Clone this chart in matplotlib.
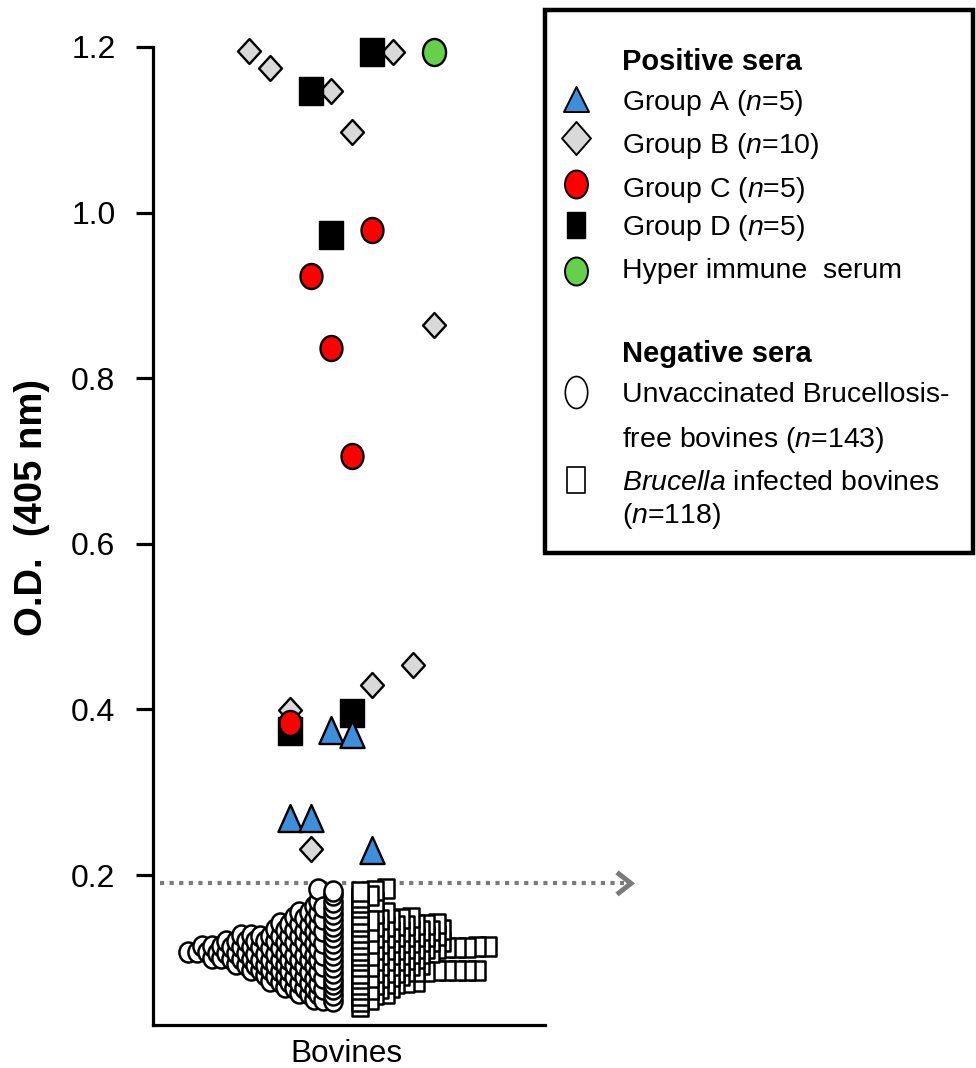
import numpy as np
import matplotlib
matplotlib.use("Agg")
import matplotlib.pyplot as plt
from matplotlib.path import Path
from matplotlib.patches import Rectangle
from matplotlib import font_manager
from matplotlib.transforms import blended_transform_factory

# ---------------- data ----------------
category = "Bovines"
yticks = [0.2, 0.4, 0.6, 0.8, 1.0, 1.2]
cutoff = 0.19

# positive sera: values and the column (0..9) each dot sits in
groupA_vals = [0.269, 0.269, 0.375, 0.371, 0.230]
groupA_cols = [2, 3, 4, 5, 6]
groupB_vals = [1.195, 1.175, 1.147, 1.194, 1.097, 0.864, 0.454, 0.429, 0.399, 0.231]
groupB_cols = [0, 1, 4, 7, 5, 9, 8, 6, 2, 3]
groupC_vals = [0.979, 0.923, 0.836, 0.706, 0.384]
groupC_cols = [6, 3, 4, 5, 2]
groupD_vals = [1.194, 1.147, 0.973, 0.396, 0.374]
groupD_cols = [6, 3, 4, 5, 2]
hyper_vals = [1.194]
hyper_cols = [9]

# negative sera (n=143 and n=118)
unvacc_vals = [
    0.181, 0.183,
    0.176,
    0.167, 0.169,
    0.160, 0.161, 0.163,
    0.153, 0.154, 0.155, 0.156,
    0.146, 0.147, 0.147, 0.148, 0.149,
    0.139, 0.140, 0.140, 0.141, 0.141, 0.142,
    0.132, 0.132, 0.133, 0.133, 0.134, 0.134, 0.135,
    0.125, 0.125, 0.126, 0.126, 0.126, 0.127, 0.127, 0.127, 0.128, 0.128,
    0.118, 0.118, 0.118, 0.119, 0.119, 0.119, 0.120, 0.120, 0.120, 0.121, 0.121, 0.121,
    0.111, 0.111, 0.111, 0.112, 0.112, 0.112, 0.112, 0.113, 0.113, 0.113, 0.113, 0.114, 0.114, 0.114,
    0.103, 0.103, 0.104, 0.104, 0.104, 0.105, 0.105, 0.105, 0.105, 0.106, 0.106, 0.106, 0.106, 0.107, 0.107, 0.107,
    0.096, 0.097, 0.097, 0.097, 0.098, 0.098, 0.098, 0.098, 0.099, 0.099, 0.099, 0.100, 0.100,
    0.089, 0.090, 0.090, 0.090, 0.091, 0.091, 0.091, 0.092, 0.092, 0.092, 0.093,
    0.082, 0.083, 0.083, 0.084, 0.084, 0.084, 0.085, 0.085, 0.086,
    0.075, 0.076, 0.076, 0.077, 0.077, 0.078, 0.078, 0.079,
    0.069, 0.069, 0.070, 0.070, 0.071, 0.071, 0.072,
    0.062, 0.062, 0.063, 0.064, 0.064, 0.065,
    0.055, 0.056, 0.057, 0.058,
    0.048, 0.049, 0.050,
]
infected_vals = [
    0.181, 0.182, 0.184,
    0.174, 0.176,
    0.167, 0.169,
    0.161,
    0.153, 0.154, 0.156,
    0.145, 0.146, 0.147, 0.147, 0.148, 0.149,
    0.138, 0.139, 0.139, 0.140, 0.140, 0.141, 0.141, 0.142,
    0.131, 0.132, 0.132, 0.133, 0.133, 0.133, 0.134, 0.134, 0.135,
    0.124, 0.125, 0.125, 0.126, 0.126, 0.127, 0.127, 0.128,
    0.117, 0.118, 0.118, 0.119, 0.119, 0.119, 0.120, 0.120, 0.121,
    0.110, 0.111, 0.111, 0.111, 0.112, 0.112, 0.112, 0.112, 0.113, 0.113, 0.113, 0.114, 0.114,
    0.104, 0.104, 0.105, 0.105, 0.105, 0.106, 0.106, 0.107,
    0.097, 0.097, 0.098, 0.098, 0.099, 0.100,
    0.090, 0.090, 0.091, 0.091, 0.092, 0.092, 0.093,
    0.082, 0.083, 0.083, 0.083, 0.084, 0.084, 0.084, 0.085, 0.085, 0.085, 0.086, 0.086,
    0.076, 0.077, 0.077, 0.078, 0.079,
    0.069, 0.069, 0.070, 0.070, 0.071, 0.072,
    0.062, 0.063, 0.064, 0.065,
    0.055, 0.056, 0.058,
    0.048, 0.050,
    0.042,
]

# ---------------- style ----------------
names = {f.name for f in font_manager.fontManager.ttflist}
SANS = "Liberation Sans" if "Liberation Sans" in names else "DejaVu Sans"
plt.rcParams["font.family"] = [SANS, "DejaVu Sans"]
plt.rcParams["mathtext.fontset"] = "custom"
plt.rcParams["mathtext.rm"] = SANS
plt.rcParams["mathtext.it"] = SANS + ":italic"
plt.rcParams["mathtext.bf"] = SANS + ":bold"

BLUE = "#3d8fdc"
GREY = "#d9d9d9"
RED = "#ff0000"
GREEN = "#66d04a"
ARROW_GREY = "#7a7a7a"

W, H = 976, 1068
PT = 72.0 / 100.0  # points per pixel at dpi 100


def mpath(kind, aspect):
    if kind == "o":
        base = Path.unit_circle()
        v = base.vertices.copy()
        c = base.codes
    elif kind == "s":
        v = np.array([[-1, -1], [1, -1], [1, 1], [-1, 1], [-1, -1]], float)
        c = [Path.MOVETO, Path.LINETO, Path.LINETO, Path.LINETO, Path.CLOSEPOLY]
    elif kind == "^":
        v = np.array([[0, 1], [-1, -1], [1, -1], [0, 1]], float)
        c = [Path.MOVETO, Path.LINETO, Path.LINETO, Path.CLOSEPOLY]
    else:  # diamond
        v = np.array([[0, 1], [1, 0], [0, -1], [-1, 0], [0, 1]], float)
        c = [Path.MOVETO, Path.LINETO, Path.LINETO, Path.LINETO, Path.CLOSEPOLY]
    v[:, 1] *= aspect
    return Path(v, c)


fig = plt.figure(figsize=(W / 100, H / 100), dpi=100)
fig.patch.set_facecolor("white")

ax_l, ax_r, ax_t, ax_b = 153, 545, 47, 1025
ax = fig.add_axes([ax_l / W, 1 - ax_b / H, (ax_r - ax_l) / W, (ax_b - ax_t) / H])
COL = 20.5  # px per column unit
ax.set_xlim((ax_l - 346) / COL, (ax_r - 346) / COL)
ax.set_ylim(0.019, 1.2)

for s in ["top", "right"]:
    ax.spines[s].set_visible(False)
for s in ["left", "bottom"]:
    ax.spines[s].set_linewidth(2.3)

ax.set_yticks(yticks)
ax.set_yticklabels([f"{t:.1f}" for t in yticks])
ax.tick_params(axis="y", length=12, width=2.3, pad=15, labelsize=23, direction="out")
ax.set_xticks([0])
ax.set_xticklabels([category])
ax.tick_params(axis="x", length=0, pad=10, labelsize=22.7)

ax.set_ylabel("O.D.  (405 nm)", fontsize=27.5, fontweight="bold")
ax.yaxis.label.set_va("center")
ax.yaxis.set_label_coords((32 - ax_l) / (ax_r - ax_l), 1 - (508 - ax_t) / (ax_b - ax_t))

# ---------------- cutoff arrow ----------------
bt = blended_transform_factory(ax.transAxes, ax.transData)
fx = lambda px: (px - ax_l) / (ax_r - ax_l)
ax.plot([fx(160), fx(624)], [cutoff, cutoff], transform=bt, clip_on=False,
        color=ARROW_GREY, lw=3.0, linestyle=(0, (1, 1.3)), zorder=1)
dy = 11 / ((ax_b - ax_t) / (1.2 - 0.019))
ax.plot([fx(617), fx(631), fx(617)], [cutoff + dy, cutoff, cutoff - dy], transform=bt,
        clip_on=False, color=ARROW_GREY, lw=3.6, solid_joinstyle="miter",
        solid_capstyle="butt", zorder=1)

# ---------------- negative sera swarm ----------------
ROW_ORIGIN, ROW_H = 0.049, 0.007


def row_layout(values, x0, step, direction):
    bins = {}
    for v in values:
        key = int(round((v - ROW_ORIGIN) / ROW_H))
        bins.setdefault(key, []).append(v)
    xs, ys = [], []
    for key in sorted(bins):
        shift = 0.5 * step if key % 2 else 0.0
        for i, v in enumerate(bins[key]):
            off = i * step + (shift if i > 0 else 0.0)
            xs.append(x0 + direction * off)
            ys.append(v)
    xs, ys = np.array(xs), np.array(ys)
    order = np.argsort(-np.abs(xs - x0), kind="stable")
    return xs[order], ys[order]


cx, cy = row_layout(unvacc_vals, (333 - 346) / COL, 9.7 / COL, -1)
sx, sy = row_layout(infected_vals, (360 - 346) / COL, 10.2 / COL, +1)
ax.plot(cx, cy, linestyle="none", marker=mpath("o", 1.1), markersize=20 * PT,
        markerfacecolor="white", markeredgecolor="black", markeredgewidth=1.8, zorder=3,
        clip_on=False)
ax.plot(sx, sy, linestyle="none", marker=mpath("s", 1.15), markersize=19 * PT,
        markerfacecolor="white", markeredgecolor="black", markeredgewidth=1.8, zorder=3,
        clip_on=False)

# ---------------- positive sera ----------------
POS_X0 = (249 - 346) / COL


def xs_of(cols):
    return [POS_X0 + c for c in cols]


common = dict(linestyle="none", markeredgecolor="black", clip_on=False)
ax.plot(xs_of(groupB_cols), groupB_vals, marker=mpath("D", 1.09), markersize=25 * PT,
        markerfacecolor=GREY, markeredgewidth=1.7, zorder=4, **common)
ax.plot(xs_of(groupD_cols), groupD_vals, marker=mpath("s", 1.17), markersize=28 * PT,
        markerfacecolor="black", markeredgewidth=1.0, zorder=5, **common)
ax.plot(xs_of(groupC_cols), groupC_vals, marker=mpath("o", 1.14), markersize=25 * PT,
        markerfacecolor=RED, markeredgewidth=1.7, zorder=6, **common)
ax.plot(xs_of(groupA_cols), groupA_vals, marker=mpath("^", 1.12), markersize=27 * PT,
        markerfacecolor=BLUE, markeredgewidth=1.7, zorder=7, **common)
ax.plot(xs_of(hyper_cols), hyper_vals, marker=mpath("o", 1.17), markersize=27 * PT,
        markerfacecolor=GREEN, markeredgewidth=1.7, zorder=7, **common)

# ---------------- legend (drawn in pixel space) ----------------
lg = fig.add_axes([0, 0, 1, 1], zorder=10)
lg.set_xlim(0, W)
lg.set_ylim(H, 0)
lg.axis("off")
lg.patch.set_alpha(0)
lg.add_patch(Rectangle((545, 10), 428, 543, fill=False, edgecolor="black", lw=3.2))

TX = 622
FS = 20.5
lg.text(TX, 70, "Positive sera", fontsize=21, fontweight="bold", va="baseline")
lg.text(TX, 362, "Negative sera", fontsize=21, fontweight="bold", va="baseline")

legend_rows = [
    ("^", 1.0, 25, BLUE, 1.4, 99, "Group A ($n$=5)", 110),
    ("D", 1.14, 33, GREY, 1.4, 138, "Group B ($n$=10)", 153),
    ("o", 1.22, 28, RED, 1.4, 184, "Group C ($n$=5)", 197),
    ("s", 1.5, 26, "black", 1.0, 225, "Group D ($n$=5)", 235),
    ("o", 1.22, 28, GREEN, 1.4, 271, "Hyper immune  serum", 278),
    ("o", 1.43, 32, "white", 1.2, 392, "Unvaccinated Brucellosis-", 402),
    ("s", 1.45, 26, "white", 1.2, 480, r"$\mathit{Brucella}$ infected bovines", 490),
]
for kind, asp, hpx, fc, mew, my, label, by in legend_rows:
    lg.plot([576], [my], linestyle="none", marker=mpath(kind, asp), markersize=hpx * PT,
            markerfacecolor=fc, markeredgecolor="black", markeredgewidth=mew)
    lg.text(TX, by, label, fontsize=FS, va="baseline")
lg.text(TX, 447, "free bovines ($n$=143)", fontsize=FS, va="baseline")
lg.text(TX, 523, "($n$=118)", fontsize=FS, va="baseline")

fig.savefig("out.png", dpi=100, facecolor="white")
